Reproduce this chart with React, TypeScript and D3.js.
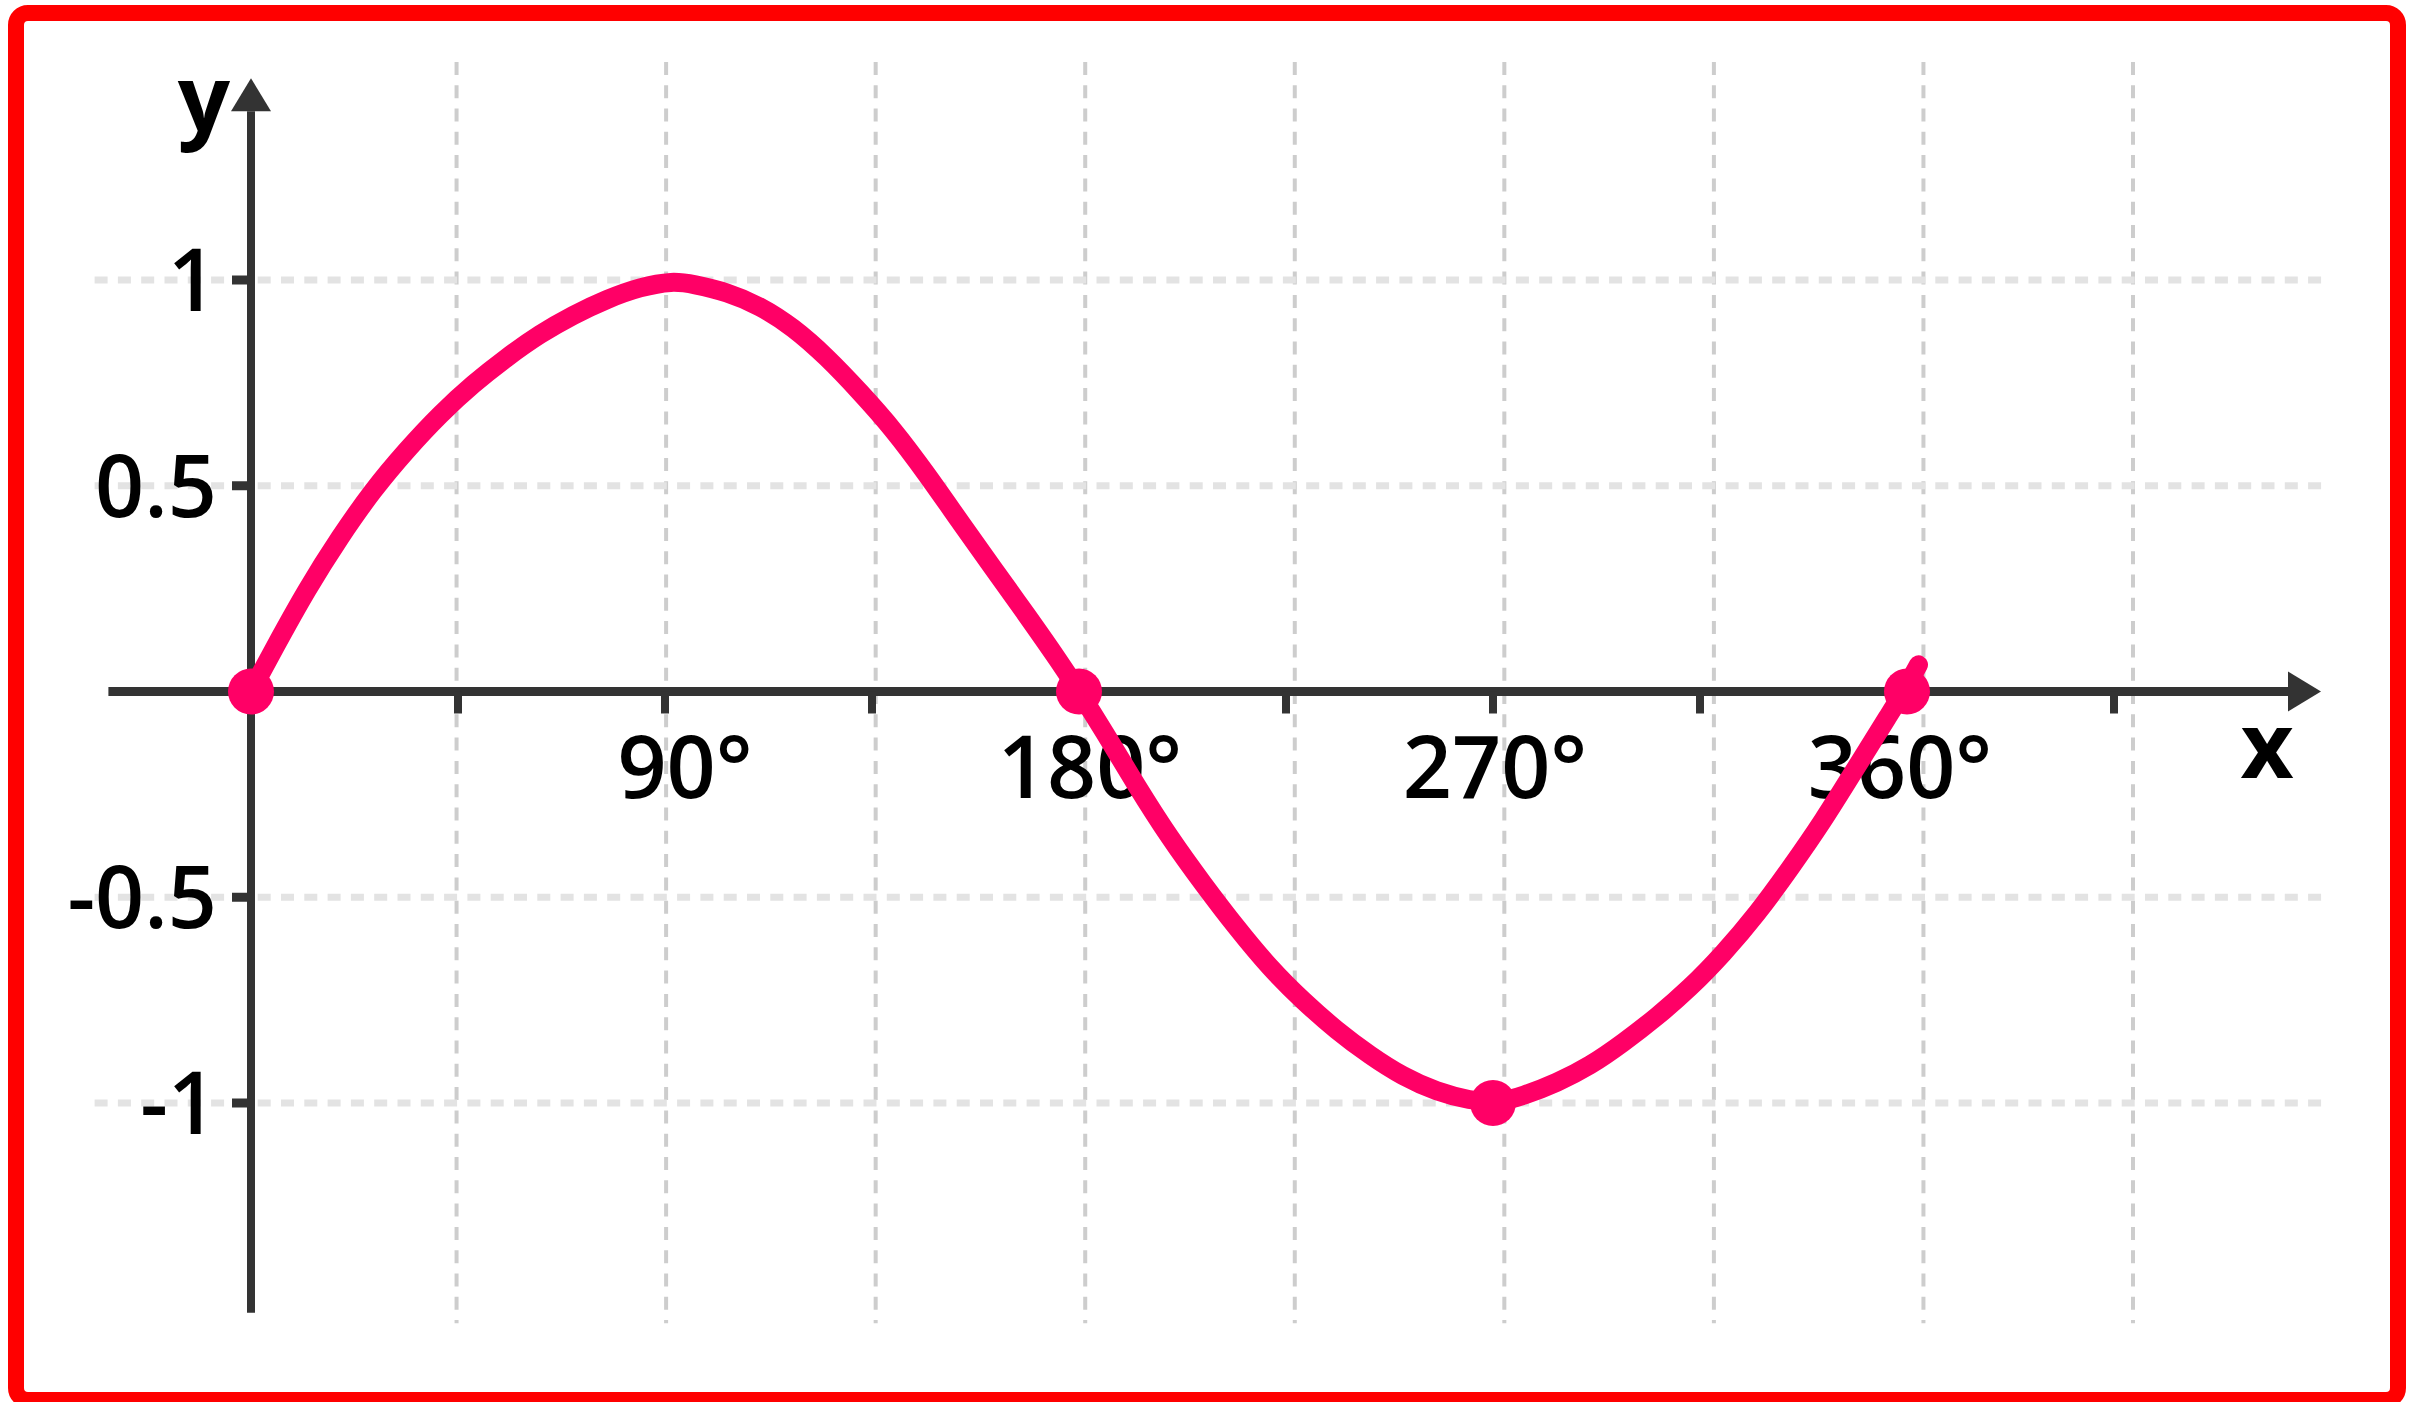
import * as d3 from "d3";

const WIDTH = 2422;
const HEIGHT = 1402;

// curve y = sin(x) (degrees / value)
const curveDeg = [
  0, 4.8, 12.2, 19.3, 26.5, 33.9, 41.1, 48.3, 55.7, 62.8, 70, 77.4, 84.6, 91.7,
  96.1, 103.5, 110.7, 117.8, 125.2, 132.4, 139.6, 147, 154.1, 161.3, 168.7, 175.9, 180,
  185.2, 192.6, 199.8, 207, 214.3, 221.5, 228.7, 236.1, 243.3, 250.4, 257.8, 265, 271,
  276.5, 283.9, 291.1, 298.3, 305.7, 312.8, 320, 327.4, 334.6, 341.7, 349.1, 356.3, 360, 362.5,
];
const curveVal = [
  0, 0.1, 0.25, 0.375, 0.49, 0.588, 0.674, 0.748, 0.813, 0.869, 0.915, 0.954, 0.983, 0.998,
  0.99, 0.971, 0.937, 0.886, 0.813, 0.728, 0.638, 0.527, 0.413, 0.3, 0.185, 0.07, 0,
  -0.092, -0.231, -0.357, -0.468, -0.575, -0.672, -0.752, -0.825, -0.885, -0.936, -0.973, -0.994, -1,
  -0.983, -0.951, -0.91, -0.854, -0.79, -0.721, -0.638, -0.541, -0.43, -0.316, -0.182, -0.053, 0.013, 0.065,
];

// highlighted points
const pointDeg = [0, 180, 270, 360];
const pointVal = [0, 0, -1, 0];

// axes
const xTickDeg = [45, 90, 135, 180, 225, 270, 315, 360, 405];
const xLabelDeg = [90, 180, 270, 360];
const xLabels = ["90°", "180°", "270°", "360°"];
const yTickVal = [1, 0.5, -0.5, -1];
const yLabels = ["1", "0.5", "-0.5", "-1"];

// background grid
const gridDeg = [45, 90, 135, 180, 225, 270, 315, 360, 405];
const gridVal = [1, 0.5, -0.5, -1];

const PINK = "#ff0066";
const AXIS = "#333333";
const FONT = "'Open Sans', 'Noto Sans', sans-serif";

function SineChart() {
  const xScale = d3.scaleLinear().domain([0, 360]).range([251, 1907]);
  const gridX = d3.scaleLinear().domain([0, 405]).range([247, 2133]);
  const labelX = d3.scaleLinear().domain([90, 360]).range([685, 1900]);
  const yScale = d3.scaleLinear().domain([-1, 1]).range([1103, 280]);

  const x0 = xScale(0);
  const y0 = yScale(0);

  // axis extents, in data units
  const xAxisStart = xScale(-31);
  const xAxisTip = xScale(450);
  const yAxisBottom = yScale(-1.51);
  const yAxisTip = yScale(1.49);
  const arrowLen = 33;
  const arrowHalf = 20;

  const gridTop = yScale(1.53);
  const gridBottom = yScale(-1.535);
  const gridLeft = xScale(-34);
  const gridRight = xScale(451.5);

  const points = curveDeg.map((d, i) => [d, curveVal[i]] as [number, number]);
  // basis spline smooths out the hand reading noise
  const line = d3
    .line<[number, number]>()
    .x((d) => xScale(d[0]))
    .y((d) => yScale(d[1]))
    .curve(d3.curveBasis);

  return (
    <svg
      width={WIDTH}
      height={HEIGHT}
      style={{ position: "absolute", left: 0, top: 0, background: "#fff" }}
    >
      <rect x={0} y={0} width={WIDTH} height={HEIGHT} fill="#fff" />

      {/* grid */}
      <g>
        {gridDeg.map((d) => (
          <line
            key={"gx" + d}
            x1={gridX(d)}
            x2={gridX(d)}
            y1={gridTop}
            y2={gridBottom}
            stroke="#cdcdcd"
            strokeWidth={4}
            strokeDasharray="13 10.3"
          />
        ))}
        {gridVal.map((v) => (
          <line
            key={"gy" + v}
            x1={gridLeft}
            x2={gridRight}
            y1={yScale(v)}
            y2={yScale(v)}
            stroke="#e3e3e3"
            strokeWidth={7}
            strokeDasharray="13 10.3"
          />
        ))}
      </g>

      {/* axes */}
      <g stroke={AXIS} fill="none">
        <line x1={xAxisStart} x2={xAxisTip - arrowLen} y1={y0} y2={y0} strokeWidth={9} />
        <line x1={x0} x2={x0} y1={yAxisBottom} y2={yAxisTip + arrowLen} strokeWidth={8} />
        {xTickDeg.map((d) => (
          <line key={"tx" + d} x1={xScale(d)} x2={xScale(d)} y1={y0} y2={y0 + 22} strokeWidth={8} />
        ))}
        {yTickVal.map((v) => (
          <line key={"ty" + v} x1={x0 - 19} x2={x0} y1={yScale(v)} y2={yScale(v)} strokeWidth={9} />
        ))}
      </g>
      <path
        d={`M${xAxisTip},${y0} L${xAxisTip - arrowLen},${y0 - arrowHalf} L${xAxisTip - arrowLen},${y0 + arrowHalf} Z`}
        fill={AXIS}
      />
      <path
        d={`M${x0},${yAxisTip} L${x0 - arrowHalf},${yAxisTip + arrowLen} L${x0 + arrowHalf},${yAxisTip + arrowLen} Z`}
        fill={AXIS}
      />

      {/* labels */}
      <g fontFamily={FONT} fill="#000">
        {yTickVal.map((v, i) => (
          <text key={"ly" + v} x={x0 - 34} y={yScale(v) + 31} textAnchor="end" fontSize={86} fontWeight={600}>
            {yLabels[i]}
          </text>
        ))}
        {xLabelDeg.map((d, i) => (
          <text key={"lx" + d} x={labelX(d)} y={y0 + 106} textAnchor="middle" fontSize={86} fontWeight={600}>
            {xLabels[i]}
          </text>
        ))}
        <text x={x0 - 47} y={yAxisTip + 53} textAnchor="middle" fontSize={92} fontWeight={700}>
          y
        </text>
        <text x={xAxisTip - 54} y={y0 + 86} textAnchor="middle" fontSize={92} fontWeight={700}>
          x
        </text>
      </g>

      {/* curve */}
      <path
        d={line(points) ?? ""}
        fill="none"
        stroke={PINK}
        strokeWidth={19}
        strokeLinecap="round"
        strokeLinejoin="round"
      />
      {pointDeg.map((d, i) => (
        <circle key={"p" + d} cx={xScale(d)} cy={yScale(pointVal[i])} r={23} fill={PINK} />
      ))}

      {/* frame */}
      <rect x={16} y={13} width={2382} height={1387} rx={12} fill="none" stroke="#ff0000" strokeWidth={16} />
    </svg>
  );
}

export default function App() {
  return <SineChart />;
}
